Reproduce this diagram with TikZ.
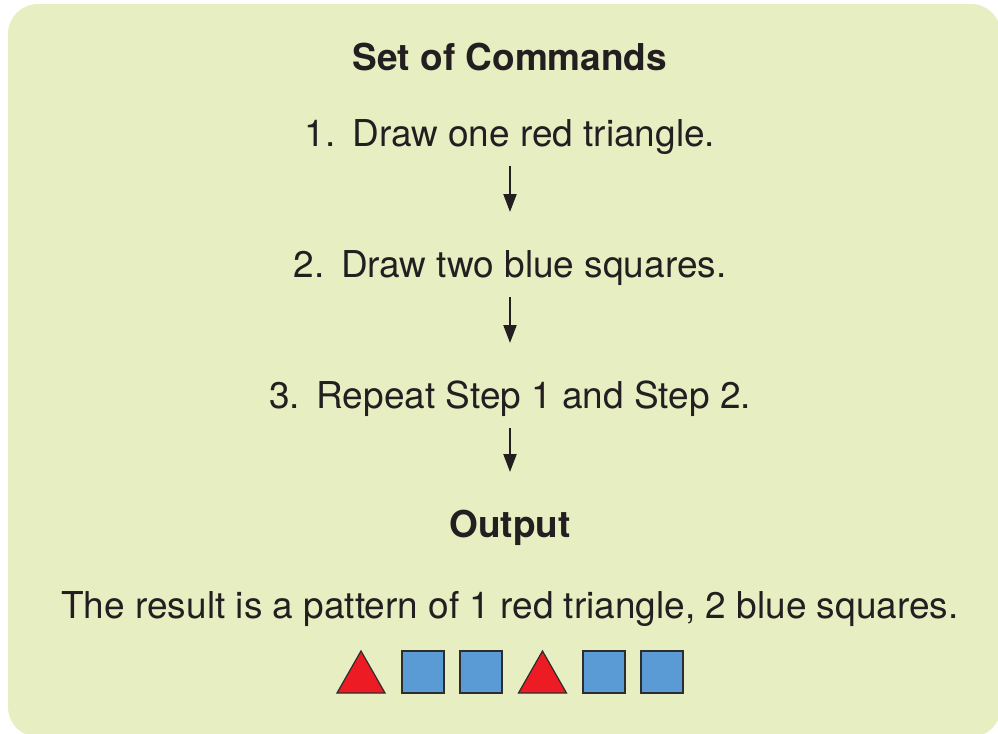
\documentclass[tikz,border=0pt]{standalone}
\usepackage{fontspec}
\setmainfont{TeX Gyre Heros}
\usetikzlibrary{arrows.meta}
\definecolor{boxgreen}{RGB}{231,239,194}
\definecolor{txtblack}{RGB}{35,31,32}
\definecolor{trired}{RGB}{237,28,36}
\definecolor{sqblue}{RGB}{91,155,213}
\definecolor{edgegray}{RGB}{45,45,45}
\newcommand{\numgap}{\hspace{0.45em}}
\tikzset{
  ttl/.style={anchor=base, inner sep=0pt, font=\fontsize{18.5}{22}\selectfont\bfseries, text=txtblack},
  cmd/.style={anchor=base, inner sep=0pt, font=\fontsize{18.5}{22}\selectfont, text=txtblack},
  darr/.style={-{Triangle[length=9pt,width=6.5pt]}, txtblack, line width=1.1pt,
      shorten <=10pt, shorten >=32.5pt},
  tri/.style={fill=trired, draw=edgegray, line width=0.6pt},
  sq/.style={fill=sqblue, draw=edgegray, line width=0.6pt},
}

\begin{document}
\begin{tikzpicture}[x=0.5pt,y=-0.5pt]
\useasboundingbox (0,0) rectangle (998,734);
\begin{scope}
  \clip (0,0) rectangle (998,734);
  \fill[boxgreen, rounded corners=15pt] (8,4) rectangle (1001,737);
\end{scope}
\node[ttl] (title) at (510,70) {Set of Commands};
\node[cmd] (s1) at (510,146) {1.\numgap Draw one red triangle.};
\node[cmd] (s2) at (510,277) {2.\numgap Draw two blue squares.};
\node[cmd] (s3) at (510,408) {3.\numgap Repeat Step 1 and Step 2.};
\node[ttl] (out) at (510,537) {Output};
\node[cmd] (res) at (510,618) {The result is a pattern of 1 red triangle, 2 blue squares.};
\draw[darr] (s1.base) -- (s2.base);
\draw[darr] (s2.base) -- (s3.base);
\draw[darr] (s3.base) -- (out.base);
% the pattern
\foreach \x in {361,542.5}
  \draw[tri] (\x-24,693) -- (\x,651) -- (\x+24,693) -- cycle;
\foreach \x in {423,481,604,662}
  \draw[sq] (\x-21,651) rectangle (\x+21,693);
\end{tikzpicture}
\end{document}
